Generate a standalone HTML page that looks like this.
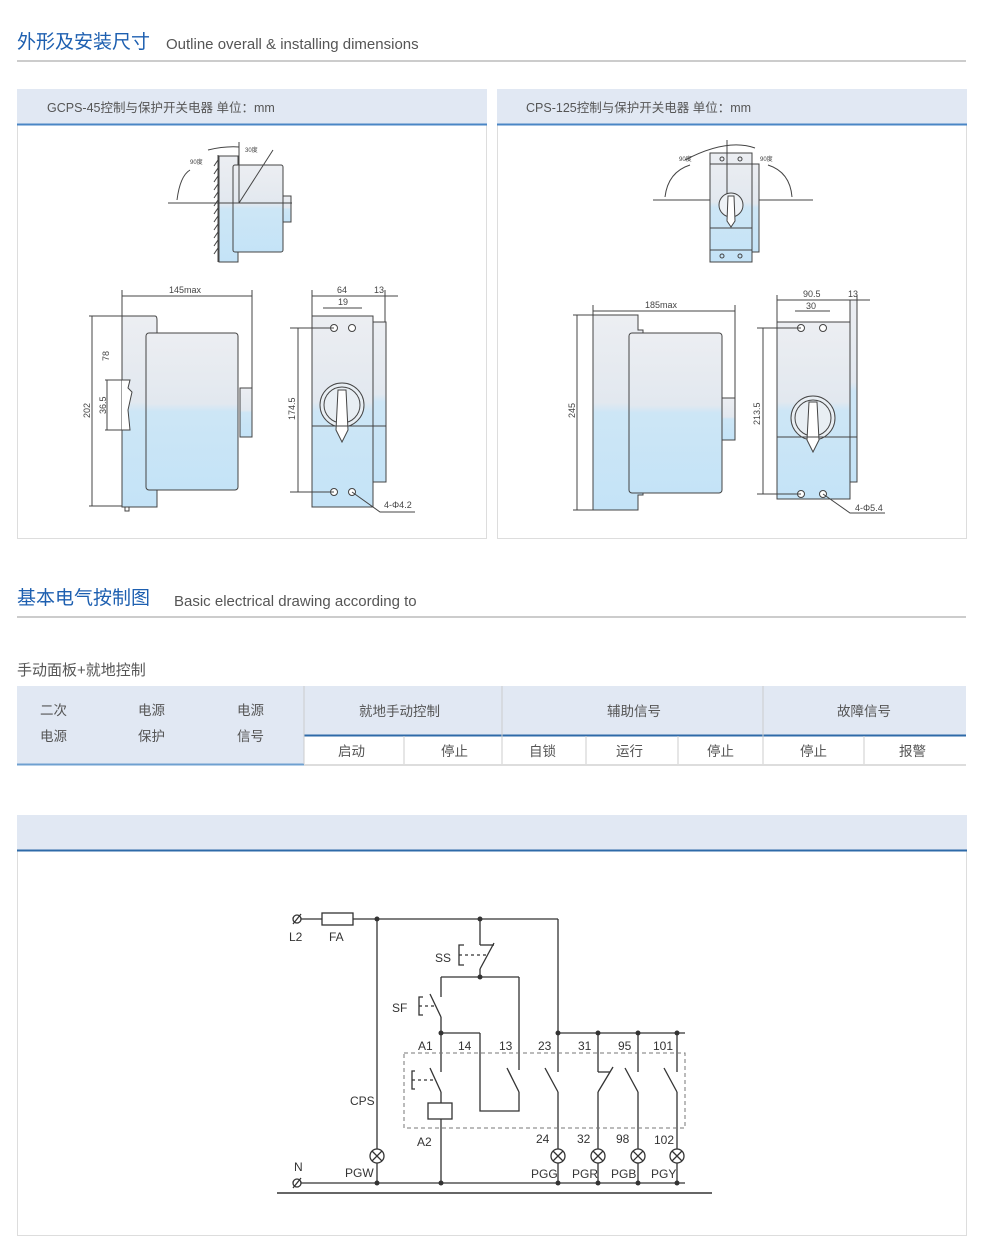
<!DOCTYPE html>
<html><head><meta charset="utf-8"><style>
body{margin:0;background:#fff;}
svg{display:block;font-family:"Liberation Sans","Noto Sans CJK SC",sans-serif;}
</style></head><body>
<svg width="1000" height="1250" viewBox="0 0 1000 1250" xmlns="http://www.w3.org/2000/svg">
<defs>
<linearGradient id="g" x1="0" y1="0" x2="0" y2="1">
<stop offset="0" stop-color="#eceef2"/><stop offset="0.45" stop-color="#e2e8ef"/><stop offset="0.5" stop-color="#cde6f6"/><stop offset="1" stop-color="#c4e3f7"/>
</linearGradient>
</defs>
<text x="17" y="48" font-size="19" fill="#1d5fb0">外形及安装尺寸</text>
<text x="166" y="49" font-size="15" fill="#555">Outline overall &amp; installing dimensions</text>
<line x1="17" y1="61" x2="966" y2="61" stroke="#bbb" stroke-width="1.5"/>

<g>
<rect x="17.5" y="89.5" width="469" height="449" fill="#fff" stroke="#ddd"/>
<rect x="17" y="89" width="470" height="35" fill="#e1e8f3"/>
<line x1="17" y1="124.5" x2="487" y2="124.5" stroke="#4a86c5" stroke-width="2"/>
<text x="47" y="112" font-size="12.5" fill="#555">GCPS-45控制与保护开关电器 单位：mm</text>
<rect x="497.5" y="89.5" width="469" height="449" fill="#fff" stroke="#ddd"/>
<rect x="497" y="89" width="470" height="35" fill="#e1e8f3"/>
<line x1="497" y1="124.5" x2="967" y2="124.5" stroke="#4a86c5" stroke-width="2"/>
<text x="526" y="112" font-size="12.5" fill="#555">CPS-125控制与保护开关电器 单位：mm</text>
</g>

<g stroke="#444" stroke-width="1" fill="none">
<line x1="218" y1="155" x2="218" y2="262"/>
<path d="M218 160 l-4 6 M218 168 l-4 6 M218 176 l-4 6 M218 184 l-4 6 M218 192 l-4 6 M218 200 l-4 6 M218 208 l-4 6 M218 216 l-4 6 M218 224 l-4 6 M218 232 l-4 6 M218 240 l-4 6 M218 248 l-4 6"/>
<rect x="219" y="156" width="19" height="106" fill="url(#g)"/>
<rect x="233" y="165" width="50" height="87" rx="2" fill="url(#g)"/>
<rect x="283" y="196" width="8" height="26" fill="url(#g)"/>
<line x1="168" y1="203" x2="292" y2="203"/>
<line x1="239" y1="142" x2="239" y2="203"/>
<line x1="239" y1="203" x2="273" y2="150"/>
<path d="M177 200 Q180 176 190 170 M208 150 Q225 146 239 147"/>
<path d="M122 316 H155 Q157 316 157 320 V507 H122 Z" fill="url(#g)"/>
<path d="M122 380 H130 L128 388 L132 392 L128 410 L130 430 H122" fill="#fff"/>
<rect x="146" y="333" width="92" height="157" rx="3" fill="url(#g)"/>
<rect x="240" y="388" width="12" height="49" fill="url(#g)"/>
<rect x="125" y="507" width="4" height="4"/>
<line x1="122" y1="290" x2="122" y2="316"/><line x1="252" y1="290" x2="252" y2="388"/>
<line x1="122" y1="296" x2="252" y2="296"/>
<line x1="89" y1="316" x2="122" y2="316"/><line x1="89" y1="506" x2="122" y2="506"/>
<line x1="92" y1="316" x2="92" y2="506"/>
<line x1="105" y1="380" x2="122" y2="380"/><line x1="105" y1="430" x2="122" y2="430"/>
<line x1="107" y1="380" x2="107" y2="430"/>
<rect x="312" y="316" width="61" height="191" fill="url(#g)"/>
<rect x="373" y="322" width="13" height="160" fill="url(#g)"/>
<circle cx="334" cy="328" r="3.5" fill="#fff"/><circle cx="352" cy="328" r="3.5" fill="#fff"/>
<circle cx="334" cy="492" r="3.5" fill="#fff"/><circle cx="352" cy="492" r="3.5" fill="#fff"/>
<circle cx="342" cy="405" r="22" fill="#e8eef3"/><circle cx="342" cy="405" r="18"/>
<path d="M338 390 h8 l2 40 l-6 12 l-6 -12 z" fill="#fff"/>
<line x1="312" y1="426" x2="386" y2="426"/>
<line x1="312" y1="290" x2="312" y2="316"/><line x1="385" y1="290" x2="385" y2="322"/>
<line x1="312" y1="296" x2="398" y2="296"/>
<line x1="323" y1="308" x2="362" y2="308"/>
<line x1="290" y1="328" x2="334" y2="328"/><line x1="290" y1="492" x2="334" y2="492"/>
<line x1="298" y1="328" x2="298" y2="492"/>
<path d="M352 492 L380 512 H415"/>
</g>
<g font-size="9" fill="#444">
<text x="190" y="164" font-size="6">90度</text><text x="245" y="152" font-size="6">30度</text>
<text x="169" y="293">145max</text>
<text x="337" y="293">64</text><text x="338" y="305">19</text><text x="374" y="293">13</text>
<text x="384" y="508">4-Φ4.2</text>
<text transform="translate(90 418) rotate(-90)">202</text>
<text transform="translate(109 361) rotate(-90)">78</text>
<text transform="translate(106 414) rotate(-90)">36.5</text>
<text transform="translate(295 420) rotate(-90)">174.5</text>
</g>

<g stroke="#444" stroke-width="1" fill="none">
<line x1="653" y1="200" x2="813" y2="200"/>
<path d="M665 197 Q668 172 690 165 M768 165 Q790 172 792 197"/>
<path d="M685 160 Q727 138 755 148"/>
<rect x="752" y="164" width="7" height="88" fill="url(#g)"/>
<rect x="710" y="153" width="42" height="109" fill="url(#g)"/>
<line x1="727" y1="140" x2="727" y2="200"/>
<line x1="710" y1="164" x2="752" y2="164"/><line x1="710" y1="250" x2="752" y2="250"/>
<circle cx="722" cy="159" r="2"/><circle cx="740" cy="159" r="2"/><circle cx="722" cy="256" r="2"/><circle cx="740" cy="256" r="2"/>
<circle cx="731" cy="205" r="12" fill="#eef2f6"/><path d="M728 196 h6 l1 25 l-4 6 l-4 -6z" fill="#fff"/>
<line x1="710" y1="228" x2="752" y2="228"/>
<path d="M593 315 H638 V330 H643 V495 H638 V510 H593 Z" fill="url(#g)"/>
<rect x="629" y="333" width="93" height="160" rx="3" fill="url(#g)"/>
<rect x="722" y="398" width="13" height="42" fill="url(#g)"/>
<line x1="593" y1="305" x2="593" y2="315"/><line x1="735" y1="305" x2="735" y2="398"/>
<line x1="593" y1="311" x2="735" y2="311"/>
<line x1="573" y1="315" x2="593" y2="315"/><line x1="573" y1="510" x2="593" y2="510"/>
<line x1="577" y1="315" x2="577" y2="510"/>
<rect x="777" y="322" width="73" height="177" fill="url(#g)"/>
<rect x="850" y="300" width="7" height="182" fill="url(#g)"/>
<circle cx="801" cy="328" r="3.5" fill="#fff"/><circle cx="823" cy="328" r="3.5" fill="#fff"/>
<circle cx="801" cy="494" r="3.5" fill="#fff"/><circle cx="823" cy="494" r="3.5" fill="#fff"/>
<circle cx="813" cy="418" r="22" fill="#e8eef3"/><circle cx="813" cy="418" r="18"/>
<path d="M809 402 h8 l2 38 l-6 12 l-6 -12z" fill="#fff"/>
<line x1="777" y1="437" x2="857" y2="437"/>
<line x1="777" y1="295" x2="777" y2="322"/><line x1="857" y1="295" x2="857" y2="300"/>
<line x1="777" y1="300" x2="870" y2="300"/><line x1="795" y1="311" x2="830" y2="311"/>
<line x1="757" y1="328" x2="801" y2="328"/><line x1="757" y1="494" x2="801" y2="494"/>
<line x1="763" y1="328" x2="763" y2="494"/>
<path d="M823 494 L850 513 H885"/>
</g>
<g font-size="9" fill="#444">
<text x="679" y="161" font-size="6">90度</text><text x="760" y="161" font-size="6">90度</text>
<text x="645" y="308">185max</text>
<text x="803" y="297">90.5</text><text x="806" y="309">30</text><text x="848" y="297">13</text>
<text x="855" y="511">4-Φ5.4</text>
<text transform="translate(575 418) rotate(-90)">245</text>
<text transform="translate(760 425) rotate(-90)">213.5</text>
</g>

<text x="17" y="604" font-size="19" fill="#1d5fb0">基本电气按制图</text>
<text x="174" y="606" font-size="15" fill="#555">Basic electrical drawing according to</text>
<line x1="17" y1="617" x2="966" y2="617" stroke="#bbb" stroke-width="1.5"/>
<text x="17" y="675" font-size="15" fill="#555">手动面板+就地控制</text>

<rect x="17" y="686" width="949" height="50" fill="#e1e8f3"/>
<rect x="17" y="686" width="287" height="78" fill="#e1e8f3"/>
<line x1="17" y1="764.5" x2="304" y2="764.5" stroke="#6fa0d0" stroke-width="2"/>
<line x1="304" y1="735.5" x2="966" y2="735.5" stroke="#2e6aa8" stroke-width="2"/>
<line x1="304" y1="765" x2="966" y2="765" stroke="#ddd" stroke-width="2"/>
<g stroke="#ccc"><line x1="304" y1="686" x2="304" y2="764"/><line x1="502" y1="686" x2="502" y2="764"/><line x1="763" y1="686" x2="763" y2="764"/>
<line x1="404" y1="736" x2="404" y2="764"/><line x1="586" y1="736" x2="586" y2="764"/><line x1="678" y1="736" x2="678" y2="764"/><line x1="864" y1="736" x2="864" y2="764"/></g>
<g font-size="13.5" fill="#555">
<text x="40" y="715">二次</text><text x="138" y="715">电源</text><text x="237" y="715">电源</text>
<text x="40" y="741">电源</text><text x="138" y="741">保护</text><text x="237" y="741">信号</text>
<text x="359" y="716">就地手动控制</text><text x="607" y="716">辅助信号</text><text x="837" y="716">故障信号</text>
<text x="338" y="756">启动</text><text x="441" y="756">停止</text><text x="529" y="756">自锁</text><text x="616" y="756">运行</text><text x="707" y="756">停止</text><text x="800" y="756">停止</text><text x="899" y="756">报警</text>
</g>

<rect x="17.5" y="815.5" width="949" height="420" fill="#fff" stroke="#ddd"/>
<rect x="17" y="815" width="950" height="35" fill="#e1e8f3"/>
<line x1="17" y1="850.5" x2="967" y2="850.5" stroke="#2e6aa8" stroke-width="2"/>

<g stroke="#333" stroke-width="1.3" fill="none">
<circle cx="297" cy="919" r="4"/><line x1="293" y1="924" x2="301" y2="914"/>
<line x1="301" y1="919" x2="322" y2="919"/>
<rect x="322" y="913" width="31" height="12"/>
<line x1="353" y1="919" x2="558" y2="919"/>
<line x1="377" y1="919" x2="377" y2="1149"/><line x1="377" y1="1163" x2="377" y2="1183"/>
<line x1="480" y1="919" x2="480" y2="945"/><line x1="480" y1="945" x2="494" y2="945"/>
<line x1="494" y1="943" x2="480" y2="969"/><line x1="480" y1="969" x2="480" y2="977"/>
<path d="M464 945 h-5 v20 h5"/><line x1="459" y1="955" x2="487" y2="955" stroke-dasharray="3,3"/>
<line x1="441" y1="977" x2="519" y2="977"/>
<line x1="441" y1="977" x2="441" y2="997"/><line x1="430" y1="994" x2="441" y2="1017"/><line x1="441" y1="1017" x2="441" y2="1072"/>
<path d="M423 997 h-4 v18 h4"/><line x1="419" y1="1006" x2="436" y2="1006" stroke-dasharray="3,3"/>
<line x1="441" y1="1033" x2="480" y2="1033"/>
<path d="M480 1033 V1111 H519 V1092"/><line x1="519" y1="1092" x2="507" y2="1068"/>
<line x1="519" y1="977" x2="519" y2="1070"/>
<line x1="441" y1="1092" x2="430" y2="1068"/><line x1="441" y1="1092" x2="441" y2="1103"/>
<path d="M415 1071 h-3 v18 h3"/><line x1="412" y1="1080" x2="436" y2="1080" stroke-dasharray="3,3"/>
<rect x="428" y="1103" width="24" height="16"/>
<line x1="441" y1="1119" x2="441" y2="1183"/>
<line x1="558" y1="919" x2="558" y2="1072"/><line x1="558" y1="1033" x2="685" y2="1033"/>
<line x1="545" y1="1068" x2="558" y2="1092"/><line x1="558" y1="1092" x2="558" y2="1149"/>
<line x1="598" y1="1033" x2="598" y2="1072"/><line x1="598" y1="1072" x2="610" y2="1072"/><line x1="613" y1="1067" x2="598" y2="1092"/><line x1="598" y1="1092" x2="598" y2="1149"/>
<line x1="638" y1="1033" x2="638" y2="1072"/><line x1="625" y1="1068" x2="638" y2="1092"/><line x1="638" y1="1092" x2="638" y2="1149"/>
<line x1="677" y1="1033" x2="677" y2="1072"/><line x1="664" y1="1068" x2="677" y2="1092"/><line x1="677" y1="1092" x2="677" y2="1149"/>
<rect x="404" y="1053" width="281" height="75" stroke="#777" stroke-width="1" stroke-dasharray="4,3"/>
<g>
<circle cx="377" cy="1156" r="7"/><path d="M372 1151 l10 10 M382 1151 l-10 10"/>
<circle cx="558" cy="1156" r="7"/><path d="M553 1151 l10 10 M563 1151 l-10 10"/>
<circle cx="598" cy="1156" r="7"/><path d="M593 1151 l10 10 M603 1151 l-10 10"/>
<circle cx="638" cy="1156" r="7"/><path d="M633 1151 l10 10 M643 1151 l-10 10"/>
<circle cx="677" cy="1156" r="7"/><path d="M672 1151 l10 10 M682 1151 l-10 10"/>
</g>
<line x1="558" y1="1163" x2="558" y2="1183"/><line x1="598" y1="1163" x2="598" y2="1183"/><line x1="638" y1="1163" x2="638" y2="1183"/><line x1="677" y1="1163" x2="677" y2="1183"/>
<circle cx="297" cy="1183" r="4"/><line x1="293" y1="1188" x2="301" y2="1178"/>
<line x1="301" y1="1183" x2="685" y2="1183"/>
<line x1="277" y1="1193" x2="712" y2="1193" stroke-width="1.6"/>
</g>
<g fill="#333">
<circle cx="377" cy="919" r="2.5"/><circle cx="480" cy="919" r="2.5"/><circle cx="480" cy="977" r="2.5"/>
<circle cx="441" cy="1033" r="2.5"/><circle cx="558" cy="1033" r="2.5"/><circle cx="598" cy="1033" r="2.5"/><circle cx="638" cy="1033" r="2.5"/><circle cx="677" cy="1033" r="2.5"/>
<circle cx="377" cy="1183" r="2.5"/><circle cx="441" cy="1183" r="2.5"/><circle cx="558" cy="1183" r="2.5"/><circle cx="598" cy="1183" r="2.5"/><circle cx="638" cy="1183" r="2.5"/><circle cx="677" cy="1183" r="2.5"/>
</g>
<g font-size="12" fill="#333">
<text x="289" y="941">L2</text><text x="329" y="941">FA</text>
<text x="435" y="962">SS</text><text x="392" y="1012">SF</text>
<text x="418" y="1050">A1</text><text x="458" y="1050">14</text><text x="499" y="1050">13</text><text x="538" y="1050">23</text>
<text x="578" y="1050">31</text><text x="618" y="1050">95</text><text x="653" y="1050">101</text>
<text x="350" y="1105">CPS</text><text x="417" y="1146">A2</text>
<text x="536" y="1143">24</text><text x="577" y="1143">32</text><text x="616" y="1143">98</text><text x="654" y="1144">102</text>
<text x="294" y="1171">N</text><text x="345" y="1177">PGW</text>
<text x="531" y="1178">PGG</text><text x="572" y="1178">PGR</text><text x="611" y="1178">PGB</text><text x="651" y="1178">PGY</text>
</g>
</svg>
</body></html>
